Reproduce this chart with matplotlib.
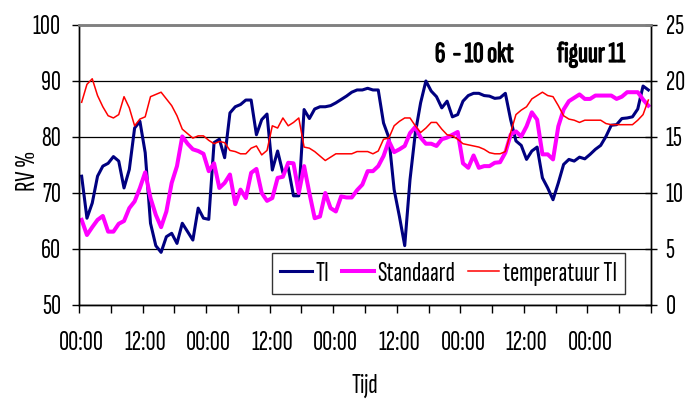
import numpy as np
import matplotlib
matplotlib.use('Agg')
import matplotlib.pyplot as plt
import matplotlib.patheffects as pe
from matplotlib.ticker import FixedLocator

plt.rcParams['font.family'] = ['Sofia Sans Extra Condensed', 'DejaVu Sans']

# hourly readings, 6 okt 00:00 .. 10 okt 11:00
rv_ti = [
    73.0, 65.5, 68.2, 73.0, 74.8, 75.3, 76.5, 75.7, 70.9, 74.2, 81.6, 82.8,
    77.2, 64.6, 60.6, 59.4, 62.2, 62.8, 61.0, 64.6, 63.1, 61.6, 67.3, 65.5,
    65.3, 79.0, 79.6, 76.3, 84.3, 85.4, 85.8, 86.6, 86.6, 80.4, 83.1, 84.1,
    74.1, 77.5, 73.6, 74.6, 69.5, 69.5, 84.9, 83.3, 85.0, 85.4, 85.4, 85.6,
    86.1, 86.7, 87.3, 88.0, 88.4, 88.4, 88.7, 88.4, 88.4, 82.5, 79.9, 70.6,
    65.8, 60.6, 72.4, 80.7, 86.1, 90.0, 88.2, 87.2, 85.2, 86.4, 83.6, 84.0,
    86.4, 87.4, 87.8, 87.8, 87.4, 87.3, 86.9, 87.0, 87.8, 83.1, 79.3, 78.5,
    76.0, 77.5, 78.2, 72.7, 70.9, 68.8, 71.8, 75.1, 76.0, 75.7, 76.4, 76.1,
    76.9, 77.8, 78.5, 80.1, 82.1, 82.2, 83.3, 83.4, 83.6, 85.0, 89.1, 88.4,
]
rv_standaard = [
    65.2, 62.5, 63.9, 65.2, 65.9, 63.1, 63.1, 64.5, 65.0, 67.3, 68.5, 70.9,
    73.7, 69.1, 66.1, 63.9, 66.7, 71.8, 74.8, 80.1, 78.8, 77.8, 77.5, 77.0,
    73.9, 75.3, 70.9, 71.8, 73.3, 68.0, 70.6, 69.1, 73.6, 74.3, 70.0, 68.6,
    69.1, 72.7, 72.9, 75.4, 75.3, 70.0, 74.8, 70.0, 65.5, 65.8, 70.0, 67.3,
    66.7, 69.4, 69.2, 69.2, 70.5, 71.5, 73.9, 73.9, 74.8, 76.6, 79.3, 77.3,
    77.8, 78.4, 80.7, 81.8, 79.9, 78.8, 78.8, 78.4, 79.6, 79.9, 80.4, 80.9,
    75.3, 74.5, 76.7, 74.5, 74.8, 74.8, 75.4, 75.5, 77.2, 80.4, 81.0, 80.1,
    81.9, 84.4, 83.1, 76.9, 76.9, 76.0, 81.9, 84.9, 86.4, 87.0, 87.6, 86.8,
    86.8, 87.4, 87.4, 87.4, 87.4, 86.8, 87.2, 88.0, 88.0, 88.0, 86.7, 85.6,
]
temp_ti = [
    18.1, 19.7, 20.2, 18.7, 17.7, 16.9, 16.7, 17.0, 18.6, 17.6, 16.0, 16.6,
    16.8, 18.6, 18.8, 19.0, 18.4, 17.8, 16.9, 15.7, 15.3, 14.9, 15.1, 15.1,
    14.7, 14.4, 14.6, 14.5, 13.8, 13.7, 13.5, 13.5, 14.0, 14.2, 13.4, 13.8,
    16.0, 15.8, 16.7, 16.0, 16.3, 16.7, 14.1, 14.0, 13.7, 13.3, 12.9, 13.2,
    13.5, 13.5, 13.5, 13.5, 13.7, 13.7, 13.7, 13.5, 13.75, 14.8, 14.9, 16.0,
    16.4, 16.7, 16.7, 16.0, 15.4, 15.8, 16.3, 16.3, 15.7, 15.2, 15.1, 14.8,
    14.4, 14.3, 14.2, 14.1, 13.9, 13.6, 13.5, 13.5, 13.7, 15.4, 17.0, 17.4,
    17.7, 18.4, 18.7, 19.0, 18.7, 18.6, 17.8, 16.9, 16.6, 16.5, 16.3, 16.5,
    16.5, 16.5, 16.5, 16.2, 16.1, 16.1, 16.1, 16.1, 16.1, 16.5, 17.0, 18.3,
]
tick_labels = ['00:00', '12:00'] * 4 + ['00:00']

FS = 20
n = len(rv_ti)
x = np.arange(n)

fig = plt.figure(figsize=(6.89, 3.99), dpi=100)
ax = fig.add_axes([79 / 689, 1 - 305 / 399, 572 / 689, 280 / 399])
ax2 = ax.twinx()

l1, = ax.plot(x, rv_ti, color='#000080', lw=2.2, label='TI')
l2, = ax.plot(x, rv_standaard, color='#FF00FF', lw=2.9, label='Standaard')
l3, = ax2.plot(x, temp_ti, color='#FF0000', lw=1.1, label='temperatuur TI')

ax.set_xlim(-0.5, n - 0.5)
ax.set_ylim(50, 100)
ax2.set_ylim(0, 25)
ax.set_yticks(range(50, 101, 10))
ax2.set_yticks(range(0, 26, 5))

# labels centred on every 12th hour, tick marks on the 6-hour boundaries
ax.set_xticks(np.arange(0, n, 12)[:len(tick_labels)], tick_labels)
ax.xaxis.set_minor_locator(FixedLocator(np.arange(-0.5, n, 6)))
ax.tick_params(axis='x', which='major', length=0, pad=19, labelsize=FS)
ax.tick_params(axis='x', which='minor', length=6, width=1, direction='out')
ax.tick_params(axis='y', length=5, width=1, direction='out', pad=8, labelsize=FS)
ax2.tick_params(axis='y', length=9, width=1, direction='inout', pad=6, labelsize=FS)

ax.grid(axis='y', color='black', lw=0.9)
for a in (ax, ax2):
    a.spines['top'].set_color('#808080')
    a.spines['top'].set_linewidth(1.8)
    for s in ('left', 'right', 'bottom'):
        a.spines[s].set_color('black')
        a.spines[s].set_linewidth(1)

ax.set_ylabel('RV %', fontsize=FS)
ax.yaxis.set_label_coords(-0.068, 0.48)
ax.set_xlabel('Tijd', fontsize=FS, labelpad=13)

leg = ax2.legend(handles=[l1, l2, l3], loc='upper left',
                 bbox_to_anchor=(272 / 689, 1 - 253 / 399),
                 bbox_transform=fig.transFigure,
                 ncol=3, fontsize=FS, frameon=True, fancybox=False,
                 handlelength=1.15, handletextpad=0.12, columnspacing=0.45,
                 borderaxespad=0, borderpad=0.3)
leg.get_frame().set_edgecolor('black')
leg.get_frame().set_linewidth(1)

bold = [pe.withStroke(linewidth=0.9, foreground='black')]
fig.text(435 / 689, 1 - 55 / 399, '6  - 10 okt', fontsize=21, va='center', path_effects=bold)
fig.text(557 / 689, 1 - 55 / 399, 'figuur 11', fontsize=21, va='center', path_effects=bold)

fig.savefig('out.png', dpi=100)
